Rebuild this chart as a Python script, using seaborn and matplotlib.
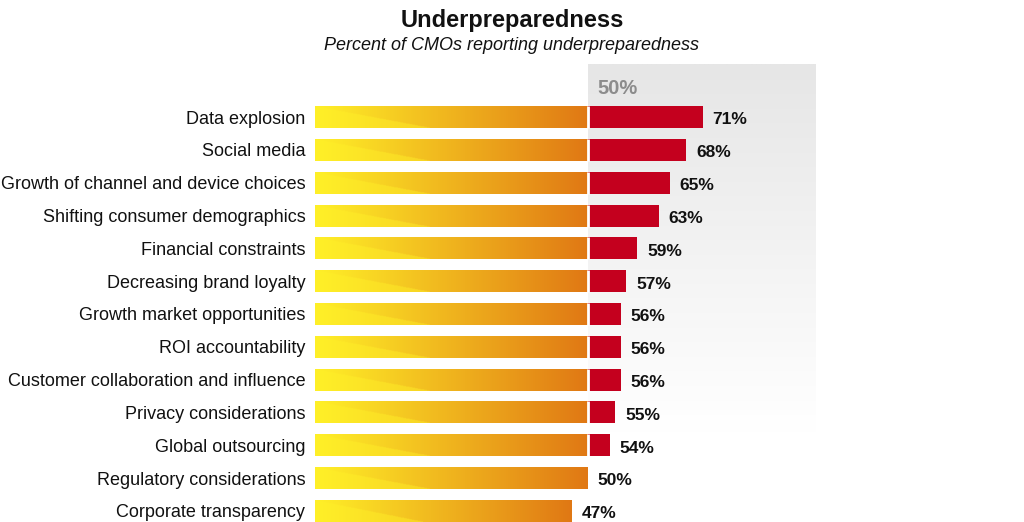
import numpy as np
import pandas as pd
import matplotlib.pyplot as plt
import seaborn as sns

# ---- data ----
categories = [
    "Data explosion",
    "Social media",
    "Growth of channel and device choices",
    "Shifting consumer demographics",
    "Financial constraints",
    "Decreasing brand loyalty",
    "Growth market opportunities",
    "ROI accountability",
    "Customer collaboration and influence",
    "Privacy considerations",
    "Global outsourcing",
    "Regulatory considerations",
    "Corporate transparency",
]
values = [71, 68, 65, 63, 59, 57, 56, 56, 56, 55, 54, 50, 47]
threshold = 50

sns.set_theme(style="white")
plt.rcParams['font.family'] = ['Liberation Sans', 'DejaVu Sans']

df = pd.DataFrame({'item': categories, 'pct': values})

fig = plt.figure(figsize=(10.24, 5.22), dpi=100)
ax = fig.add_axes([315 / 1024, 0, (816 - 315) / 1024, (522 - 64) / 522])

sns.barplot(data=df, x='pct', y='item', color='#c4001e', orient='h',
            width=0.67, saturation=1, linewidth=0, ax=ax, zorder=2)

xmax = (816 - 315) / 5.46
ymin, ymax = 12.34, -1.62

# grey backdrop for the part beyond 50% (fades to white toward the bottom)
h, w = 200, 20
v = np.linspace(0, 1, h)[:, None] * np.ones((1, w))
shade = np.clip(v / 0.8, 0, 1)
g = (230 + 25 * shade) / 255
panel = np.dstack([g, g, g])
ax.imshow(panel, extent=[threshold, xmax, ymin, ymax], aspect='auto',
          zorder=0, interpolation='bilinear')

# yellow-to-orange gradient for the part up to 50%
gh, gw = 40, 300
gv = np.linspace(0, 1, gh)[:, None]
gu = np.linspace(0, 1, gw)[None, :]
t = np.where(gv > gu / 0.42, gu * 0.55, gu) * np.ones((gh, gw))
c0 = np.array([255, 240, 40]) / 255
c1 = np.array([224, 120, 20]) / 255
grad = c0[None, None, :] * (1 - t[..., None]) + c1[None, None, :] * t[..., None]

for patch, val in zip(ax.patches, values):
    y0 = patch.get_y()
    y1 = y0 + patch.get_height()
    x1 = min(val, threshold)
    ax.imshow(grad, extent=[0, x1, y1, y0], aspect='auto', zorder=3,
              interpolation='bilinear')
    if val > threshold:
        ax.vlines(threshold, y0, y1, color='white', lw=2, zorder=5)
    ax.text(val + 1.8, y0 + patch.get_height() / 2 + 0.04, f"{val}%",
            ha='left', va='center_baseline', fontsize=12.5,
            fontweight='bold', color='#111111')

ax.set_xlim(0, xmax)
ax.set_ylim(ymin, ymax)

ax.text(threshold + 1.8, -0.92, "50%", ha='left', va='center_baseline',
        fontsize=14.5, fontweight='bold', color='#8c8c8c')

ax.set_xlabel('')
ax.set_ylabel('')
ax.set_xticks([])
ax.tick_params(axis='y', length=0, pad=7, labelsize=13, labelcolor='#111111')
for s in ax.spines.values():
    s.set_visible(False)

fig.text(0.5, 1 - 20 / 522, "Underpreparedness", ha='center', va='center',
         fontsize=17, fontweight='bold', color='#111111')
fig.text(0.5, 1 - 46 / 522, "Percent of CMOs reporting underpreparedness",
         ha='center', va='center', fontsize=13, style='italic',
         color='#111111')

fig.savefig('out.png', dpi=100)
